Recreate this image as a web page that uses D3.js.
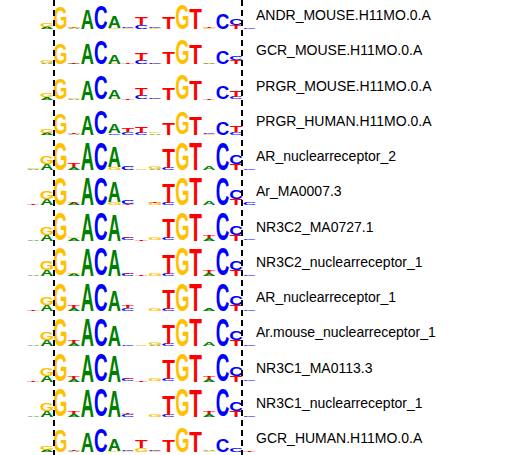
<!DOCTYPE html>
<html><head><meta charset="utf-8">
<script src="https://cdn.jsdelivr.net/npm/d3@7"></script>
<style>body{margin:0;background:#fff}</style></head>
<body><svg id="c" width="515" height="455"></svg>
<script>
// motif names, top to bottom
var motifs = ["ANDR_MOUSE.H11MO.0.A", "GCR_MOUSE.H11MO.0.A", "PRGR_MOUSE.H11MO.0.A", "PRGR_HUMAN.H11MO.0.A",
    "AR_nuclearreceptor_2", "Ar_MA0007.3", "NR3C2_MA0727.1", "NR3C2_nuclearreceptor_1", "AR_nuclearreceptor_1",
    "Ar.mouse_nuclearreceptor_1", "NR3C1_MA0113.3", "NR3C1_nuclearreceptor_1", "GCR_HUMAN.H11MO.0.A"];
var positions = d3.range(-1, 16);
// each column: letter + bits, bottom to top
var logos = [
  ["", "A.15G.3", "G1.5", "A.05T.05G.05", "A1.3", "C1.6", "G.05A.8", "G.05C.1", "C.25T.5", "G.05C.1", "T.8", "G1.7", "T1.4", "G.05T.08", "C1.1", "T.3C.4", "C.08"],
  ["", "A.1G.2", "G1.4", "A.05T.1", "A1.4", "C1.6", "G.05A.6", "T.1", "C.25T.5", "G.05C.05", "T.8", "G1.7", "T1.3", "G.05A.05", "C.9", "T.3C.3", ""],
  ["", "A.15G.25", "G1.4", "A.05G.05", "A1.3", "C1.6", "G.05A.6", "T.05", "C.25T.5", "G.05C.05", "T.8", "G1.7", "T1.3", "T.1", "C.9", "C.2T.4", ""],
  ["", "A.15G.25", "G1.4", "A.05T.05", "A1.3", "C1.6", "C.1A.6", "C.2T.3", "C.15T.4", "A.1G.1", "T.8", "G1.5", "T1.2", "G.05C.05", "C.9", "C.2T.4", ""],
  ["A.1G.05", "A.4G.5", "G1.9", "A.2T.3", "A1.9", "C1.9", "G.2A1.4", "C.3", "G.05", "A.1G.15", "C.15T1.3", "G1.9", "T1.9", "A.25", "C1.9", "T.4C.6", "C.1"],
  ["T.1", "A.4G.5", "G1.9", "A.15T.1", "A1.9", "C1.9", "G.2A1.4", "T.1C.3", "", "G.15T.1", "C.15T1.3", "G1.9", "T1.9", "A.25", "C1.9", "T.4C.6", "C.2"],
  ["A.1", "A.4G.5", "G1.9", "A.15G.1", "A1.9", "C1.9", "A1.8", "C.2T.1", "T.1", "G.15", "C.15T1.3", "G1.9", "T1.9", "A.2T.15", "C1.9", "T.4C.6", "C.1"],
  ["A.05", "A.4G.6", "G1.9", "A.15G.1", "A1.9", "C1.9", "A1.8", "C.15T.1", "T.05", "G.15", "C.15T1.3", "G1.9", "T1.9", "A.2T.15", "C1.9", "T.4C.6", "C.1"],
  ["T.1", "A.4G.5", "G1.9", "A.2T.2", "A1.9", "C1.9", "A1.4", "C.2T.2", "", "G.15", "C.15T1.3", "G1.9", "T1.9", "A.2", "C1.9", "T.4C.6", "C.1"],
  ["A.05", "A.4G.5", "G1.9", "A.2T.2", "A1.9", "C1.9", "A1.4", "C.1", "G.1", "A.1G.2", "C.15T1.3", "G1.9", "T1.9", "A.25", "C1.9", "T.4C.6", "C.1"],
  ["T.1", "A.4G.5", "G1.9", "A.2T.2", "A1.9", "C1.9", "A1.8", "C.2T.1", "T.05", "G.15", "C.15T1.3", "G1.9", "T1.9", "A.2T.15", "C1.9", "T.4C.6", "C.1"],
  ["A.05", "A.4G.5", "G1.9", "A.2T.2", "A1.9", "C1.9", "A1.8", "C.2T.1", "", "G.15", "C.15T1.3", "G1.9", "T1.9", "A.2T.15", "C1.9", "T.4C.6", "C.1"],
  ["", "A.15G.3", "G1.5", "A.05T.05", "A1.3", "C1.6", "G.05A.8", "G.05C.1", "G.3T.5", "G.05C.1", "T.8", "G1.7", "T1.4", "G.05A.05", "C.9", "C.3", "T.1"]
];
var colors = {A: "#008000", C: "#0000ff", G: "#ffc000", T: "#ff0000"};
var font = "Liberation Sans, Arial";

var svg = d3.select("#c");
var x = d3.scaleBand().domain(positions).range([27, 256]).paddingInner(0.08);
var rowY = d3.scaleLinear().domain([0, 12]).range([29, 452]); // baselines
var y = d3.scaleLinear().domain([0, 2]).range([0, 29]);

// ink boxes of the glyphs, measured on a canvas
var ctx = document.createElement("canvas").getContext("2d");
ctx.font = "bold 100px " + font;
var ink = {};
"ACGT".split("").forEach(function(l) {
    var m = ctx.measureText(l);
    ink[l] = {x: -m.actualBoundingBoxLeft, y: -m.actualBoundingBoxAscent,
        w: m.actualBoundingBoxLeft + m.actualBoundingBoxRight,
        h: m.actualBoundingBoxAscent + m.actualBoundingBoxDescent};
});

function parseCol(s) {
    var out = [], re = /([ACGT])([\d.]+)/g, m;
    while ((m = re.exec(s))) out.push({l: m[1], v: +m[2]});
    return out;
}

logos.forEach(function(cols, r) {
    var g = svg.append("g");
    cols.forEach(function(s, i) {
        var base = rowY(r);
        parseCol(s).forEach(function(d) {
            var h = y(d.v), b = ink[d.l];
            if (h < 0.3) return;
            g.append("text")
                .attr("font-family", font).attr("font-weight", "bold")
                .attr("font-size", 100).attr("fill", colors[d.l]).text(d.l)
                .attr("transform", "translate(" + x(positions[i]) + "," + (base - h) + ") scale(" +
                    (x.bandwidth() / b.w) + "," + (h / b.h) + ") translate(" + (-b.x) + "," + (-b.y) + ")");
            base -= h;
        });
    });
    svg.append("text").attr("x", 256).attr("y", rowY(r) - 9)
        .attr("font-family", font).attr("font-size", 14).text(motifs[r]);
});

[54, 242].forEach(function(px) {
    svg.append("line").attr("x1", px).attr("x2", px).attr("y1", 0).attr("y2", 455)
        .attr("stroke", "#000").attr("stroke-width", 2).attr("stroke-dasharray", "6,4");
});
</script></body></html>
